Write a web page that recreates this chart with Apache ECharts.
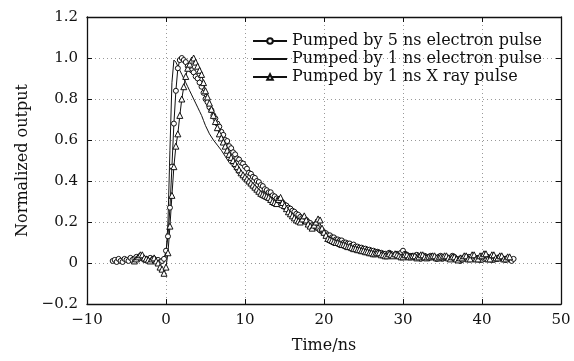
<!DOCTYPE html>
<html>
<head>
<meta charset="utf-8">
<script src="https://cdn.jsdelivr.net/npm/echarts@6/dist/echarts.min.js"></script>
<style>
  html, body { margin: 0; padding: 0; background: #fff; }
  #contain { width: 574px; height: 361px; }
</style>
</head>
<body>
<div id="contain"></div>
<script>
// sample times (ns) of the marked traces, one row = 2 ns
var timeFine = [
    -7, -6.75, -6.5, -6.25, -6, -5.75, -5.5, -5.25,
    -5, -4.75, -4.5, -4.25, -4, -3.75, -3.5, -3.25,
    -3, -2.75, -2.5, -2.25, -2, -1.75, -1.5, -1.25,
    -1, -0.75, -0.5, -0.25, 0, 0.25, 0.5, 0.75,
    1, 1.25, 1.5, 1.75, 2, 2.25, 2.5, 2.75,
    3, 3.25, 3.5, 3.75, 4, 4.25, 4.5, 4.75,
    5, 5.25, 5.5, 5.75, 6, 6.25, 6.5, 6.75,
    7, 7.25, 7.5, 7.75, 8, 8.25, 8.5, 8.75,
    9, 9.25, 9.5, 9.75, 10, 10.25, 10.5, 10.75,
    11, 11.25, 11.5, 11.75, 12, 12.25, 12.5, 12.75,
    13, 13.25, 13.5, 13.75, 14, 14.25, 14.5, 14.75,
    15, 15.25, 15.5, 15.75, 16, 16.25, 16.5, 16.75,
    17, 17.25, 17.5, 17.75, 18, 18.25, 18.5, 18.75,
    19, 19.25, 19.5, 19.75, 20, 20.25, 20.5, 20.75,
    21, 21.25, 21.5, 21.75, 22, 22.25, 22.5, 22.75,
    23, 23.25, 23.5, 23.75, 24, 24.25, 24.5, 24.75,
    25, 25.25, 25.5, 25.75, 26, 26.25, 26.5, 26.75,
    27, 27.25, 27.5, 27.75, 28, 28.25, 28.5, 28.75,
    29, 29.25, 29.5, 29.75, 30, 30.25, 30.5, 30.75,
    31, 31.25, 31.5, 31.75, 32, 32.25, 32.5, 32.75,
    33, 33.25, 33.5, 33.75, 34, 34.25, 34.5, 34.75,
    35, 35.25, 35.5, 35.75, 36, 36.25, 36.5, 36.75,
    37, 37.25, 37.5, 37.75, 38, 38.25, 38.5, 38.75,
    39, 39.25, 39.5, 39.75, 40, 40.25, 40.5, 40.75,
    41, 41.25, 41.5, 41.75, 42, 42.25, 42.5, 42.75,
    43, 43.25, 43.5, 43.75, 44
];

// Pumped by 5 ns electron pulse (circles)
var elec5ns = [
    null, 0.01, 0.015, 0.005, 0.02, 0.01, 0.005, 0.02,
    0.015, 0.01, 0.025, 0.015, 0.02, 0.03, 0.02, 0.035,
    0.025, 0.015, 0.02, 0.01, 0.025, 0.015, 0.02, 0.01,
    0.015, 0.005, 0.01, 0.02, 0.06, 0.13, 0.27, 0.47,
    0.68, 0.84, 0.95, 0.99, 1.0, 0.99, 0.98, 0.96,
    0.95, 0.94, 0.93, 0.91, 0.9, 0.88, 0.86, 0.83,
    0.8, 0.785, 0.76, 0.745, 0.72, 0.705, 0.68, 0.665,
    0.64, 0.625, 0.60, 0.595, 0.57, 0.56, 0.54, 0.53,
    0.51, 0.505, 0.49, 0.485, 0.47, 0.46, 0.44, 0.435,
    0.42, 0.415, 0.40, 0.395, 0.38, 0.375, 0.36, 0.355,
    0.345, 0.345, 0.33, 0.325, 0.315, 0.31, 0.30, 0.295,
    0.285, 0.28, 0.27, 0.265, 0.255, 0.25, 0.24, 0.235,
    0.225, 0.22, 0.21, 0.21, 0.20, 0.195, 0.185, 0.185,
    0.175, 0.17, 0.16, 0.16, 0.15, 0.145, 0.135, 0.135,
    0.125, 0.125, 0.115, 0.115, 0.11, 0.11, 0.10, 0.1,
    0.095, 0.095, 0.085, 0.09, 0.08, 0.08, 0.075, 0.075,
    0.07, 0.07, 0.065, 0.065, 0.06, 0.06, 0.055, 0.055,
    0.05, 0.05, 0.045, 0.045, 0.04, 0.05, 0.045, 0.035,
    0.04, 0.045, 0.035, 0.05, 0.06, 0.045, 0.04, 0.035,
    0.035, 0.03, 0.03, 0.04, 0.035, 0.02, 0.025, 0.035,
    0.03, 0.025, 0.035, 0.03, 0.025, 0.02, 0.03, 0.035,
    0.02, 0.025, 0.03, 0.02, 0.025, 0.035, 0.03, 0.015,
    0.02, 0.01, 0.015, 0.025, 0.025, 0.03, 0.03, 0.02,
    0.02, 0.025, 0.025, 0.015, 0.015, 0.02, 0.02, 0.03,
    0.025, 0.015, 0.015, 0.02, 0.02, 0.03, 0.025, 0.02,
    0.015, 0.025, 0.02, 0.01, 0.02
];

// Pumped by 1 ns X ray pulse (triangles)
var xray1ns = [
    null, null, null, null, null, null, null, null,
    null, null, null, null, 0.01, 0.02, 0.03, 0.04,
    0.04, 0.025, 0.02, 0.015, 0.01, 0.02, 0.025, 0.01,
    0.0, -0.02, -0.03, -0.05, -0.02, 0.05, 0.18, 0.33,
    0.47, 0.57, 0.63, 0.72, 0.8, 0.86, 0.91, 0.95,
    0.97, 0.99, 1.0, 0.98, 0.96, 0.94, 0.92, 0.88,
    0.84, 0.81, 0.78, 0.75, 0.72, 0.69, 0.66, 0.63,
    0.61, 0.59, 0.57, 0.55, 0.53, 0.515, 0.50, 0.485,
    0.47, 0.455, 0.44, 0.43, 0.42, 0.41, 0.40, 0.39,
    0.38, 0.37, 0.36, 0.35, 0.34, 0.335, 0.33, 0.325,
    0.32, 0.31, 0.30, 0.295, 0.29, 0.31, 0.32, 0.295,
    0.28, 0.265, 0.25, 0.24, 0.23, 0.22, 0.21, 0.205,
    0.20, 0.215, 0.23, 0.21, 0.19, 0.18, 0.17, 0.185,
    0.20, 0.215, 0.21, 0.17, 0.15, 0.135, 0.12, 0.115,
    0.11, 0.105, 0.10, 0.10, 0.095, 0.09, 0.09, 0.085,
    0.08, 0.08, 0.075, 0.07, 0.07, 0.065, 0.065, 0.06,
    0.06, 0.055, 0.055, 0.05, 0.05, 0.045, 0.045, 0.05,
    0.05, 0.04, 0.04, 0.035, 0.035, 0.045, 0.04, 0.035,
    0.045, 0.04, 0.035, 0.03, 0.03, 0.04, 0.04, 0.03,
    0.03, 0.035, 0.035, 0.025, 0.03, 0.04, 0.04, 0.03,
    0.025, 0.03, 0.03, 0.035, 0.035, 0.025, 0.025, 0.03,
    0.03, 0.035, 0.035, 0.025, 0.02, 0.03, 0.03, 0.02,
    0.015, 0.025, 0.025, 0.035, 0.035, 0.02, 0.02, 0.04,
    0.04, 0.02, 0.02, 0.035, 0.035, 0.045, 0.045, 0.02,
    0.02, 0.04, 0.04, 0.025, 0.025, 0.035, 0.035, 0.02,
    0.02, 0.03, 0.03, null, null
];

// Pumped by 1 ns electron pulse (plain line), sampled every 0.5 ns
var timeLine = [
    -6.5, -6, -5.5, -5, -4.5, -4, -3.5, -3, -2.5, -2, -1.5, -1, -0.5,
    -0.25, 0, 0.25, 0.5, 0.75, 1, 1.25, 1.5, 1.75, 2, 2.25, 2.5, 2.75, 3, 3.25, 3.5, 3.75, 4, 4.25, 4.5, 4.75, 5,
    5.5, 6, 6.5, 7, 7.5, 8, 8.5, 9, 9.5, 10,
    10.5, 11, 11.5, 12, 12.5, 13, 13.5, 14, 14.5, 15,
    15.5, 16, 16.5, 17, 17.5, 18, 18.5, 19, 19.5, 20,
    20.5, 21, 21.5, 22, 22.5, 23, 23.5, 24, 24.5, 25,
    25.5, 26, 26.5, 27, 27.5, 28, 28.5, 29, 29.5, 30,
    30.5, 31, 31.5, 32, 32.5, 33, 33.5, 34, 34.5, 35,
    35.5, 36, 36.5, 37, 37.5, 38, 38.5, 39, 39.5, 40,
    40.5, 41, 41.5, 42, 42.5, 43, 43.5, 44
];
var elec1ns = [
    0.0, 0.01, 0.0, 0.015, 0.005, 0.02, 0.01, 0.02, 0.0, 0.01, 0.015, 0.005, 0.0,
    0.0, 0.03, 0.2, 0.55, 0.88, 0.99, 0.98, 0.96, 0.94, 0.92, 0.9, 0.88, 0.86, 0.84, 0.82, 0.8, 0.78, 0.76, 0.74, 0.72, 0.695, 0.67,
    0.63, 0.60, 0.575, 0.55, 0.52, 0.49, 0.47, 0.44, 0.42, 0.40,
    0.38, 0.36, 0.345, 0.33, 0.315, 0.30, 0.29, 0.28, 0.27, 0.26,
    0.245, 0.23, 0.22, 0.205, 0.19, 0.18, 0.17, 0.16, 0.145, 0.13,
    0.12, 0.11, 0.105, 0.10, 0.09, 0.085, 0.08, 0.075, 0.07, 0.065,
    0.06, 0.055, 0.05, 0.045, 0.045, 0.04, 0.04, 0.035, 0.04, 0.035,
    0.03, 0.035, 0.03, 0.025, 0.03, 0.025, 0.03, 0.02, 0.025, 0.03,
    0.02, 0.025, 0.02, 0.025, 0.02, 0.015, 0.02, 0.025, 0.015, 0.02,
    0.015, 0.02, 0.025, 0.015, 0.02, 0.015, 0.02, 0.015
];

var seriesNames = ['Pumped by 5 ns electron pulse', 'Pumped by 1 ns electron pulse', 'Pumped by 1 ns X ray pulse'];

var serif = 'DejaVu Serif';
var ink = '#111';

function pairs(times, vals) {
    return times.map(function (t, i) { return [t, vals[i]]; });
}
function minus(s) { return String(s).replace('-', '\u2212'); }

var myChart = echarts.init(document.getElementById('contain'), null, { renderer: 'canvas' });

// top / right frame with inward ticks
var boxAxis = {
    axisLine: { onZero: false, lineStyle: { color: ink, width: 1.3 } },
    axisTick: { inside: true, length: 5, lineStyle: { color: ink } },
    axisLabel: { show: false },
    splitLine: { show: false }
};

var option = {
    animation: false,
    backgroundColor: '#fff',
    grid: { left: 87, right: 13, top: 17, bottom: 57 },
    legend: {
        orient: 'vertical',
        right: 27,
        top: 28,
        itemWidth: 34,
        itemHeight: 7,
        itemGap: 2,
        data: [
            seriesNames[0],
            { name: seriesNames[1], itemStyle: { opacity: 0 } },
            seriesNames[2]
        ],
        textStyle: { fontFamily: serif, fontSize: 16, color: ink }
    },
    xAxis: [
        {
            type: 'value', min: -10, max: 50, interval: 10,
            name: 'Time/ns', nameLocation: 'middle', nameGap: 34,
            nameTextStyle: { fontFamily: serif, fontSize: 16, color: ink },
            axisLine: { onZero: false, lineStyle: { color: ink, width: 1.3 } },
            axisTick: { inside: true, length: 5, lineStyle: { color: ink } },
            axisLabel: { margin: 9, fontFamily: serif, fontSize: 15, color: ink, formatter: function (v) { return minus(v); } },
            splitLine: { show: true, lineStyle: { color: '#999', type: [1, 3], width: 1 } }
        },
        Object.assign({ type: 'value', position: 'top', min: -10, max: 50, interval: 10 }, boxAxis)
    ],
    yAxis: [
        {
            type: 'value', min: -0.2, max: 1.2, interval: 0.2,
            name: 'Normalized output', nameLocation: 'middle', nameGap: 56,
            nameTextStyle: { fontFamily: serif, fontSize: 16, color: ink },
            axisLine: { onZero: false, lineStyle: { color: ink, width: 1.3 } },
            axisTick: { inside: true, length: 5, lineStyle: { color: ink } },
            axisLabel: {
                margin: 9, fontFamily: serif, fontSize: 15, color: ink,
                formatter: function (v) { return Math.abs(v) < 1e-9 ? '0' : minus(v.toFixed(1)); }
            },
            splitLine: { show: true, lineStyle: { color: '#999', type: [1, 3], width: 1 } }
        },
        Object.assign({ type: 'value', position: 'right', min: -0.2, max: 1.2, interval: 0.2 }, boxAxis)
    ],
    series: [
        {
            name: seriesNames[0], type: 'line', data: pairs(timeFine, elec5ns),
            symbol: 'circle', symbolSize: 5, showAllSymbol: true,
            itemStyle: { color: '#fff', borderColor: ink, borderWidth: 1 },
            lineStyle: { color: ink, width: 1 }
        },
        {
            name: seriesNames[1], type: 'line', data: pairs(timeLine, elec1ns),
            symbol: 'none',
            itemStyle: { color: ink },
            lineStyle: { color: ink, width: 1 }
        },
        {
            name: seriesNames[2], type: 'line', data: pairs(timeFine, xray1ns),
            symbol: 'triangle', symbolSize: 6, showAllSymbol: true,
            itemStyle: { color: '#fff', borderColor: ink, borderWidth: 1 },
            lineStyle: { color: ink, width: 1 }
        }
    ]
};

myChart.setOption(option);
</script>
</body>
</html>
